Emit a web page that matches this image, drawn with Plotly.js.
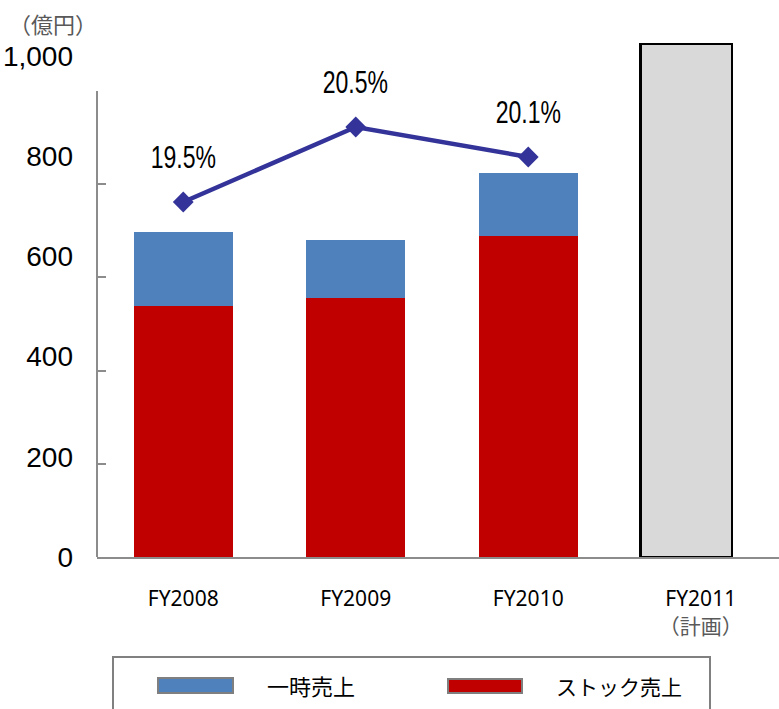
<!DOCTYPE html>
<html>
<head>
<meta charset="utf-8">
<script src="https://cdn.plot.ly/plotly-3.0.1.min.js"></script>
<style>html,body{margin:0;padding:0;background:#fff;}#chart{width:779px;height:709px;}</style>
</head>
<body>
<div id="chart"></div>
<script>
// ---- data ----
const categories = ['FY2008', 'FY2009', 'FY2010', 'FY2011'];
const tickLabels = ['FY2008', 'FY2009', 'FY2010', 'FY2011<br><span style="color:#595959">（計画）</span>'];
const stockSales = [501, 516, 641, null];      // ストック売上 (億円)
const oneTimeSales = [147, 117, 125, null];    // 一時売上 (億円)
const planSales = [null, null, null, 1024];    // FY2011 計画
const ratioCats = ['FY2008', 'FY2009', 'FY2010'];
const ratio = [19.5, 20.5, 20.1];
const ratioLabels = ['19.5%', '20.5%', '20.1%'];
const yTickVals = [0, 200, 400, 600, 800, 1000];
const seriesNames = ['一時売上', 'ストック売上'];
const unitLabel = '（億円）';

// ---- layout helpers (pixel -> paper) ----
const L = 97, R = 779, T = 38, B = 557;
const W = R - L, H = B - T;
const px = v => (v - L) / W;
const py = v => (B - v) / H;
const pxPerUnit = 0.501;           // value scale of the label axis
const pctPx = 75;                  // px per 1% on hidden axis
const pctBottom = 20.5 - (B - 127) / pctPx;

const CJK = '"Noto Sans CJK JP", "Noto Sans", sans-serif';
const NARROW = '"Liberation Sans", Arial, sans-serif';

const traces = [
  {type: 'bar', name: seriesNames[1], x: categories, y: stockSales, width: 0.574,
   marker: {color: '#c00000'}, hoverinfo: 'skip'},
  {type: 'bar', name: seriesNames[0], x: categories, y: oneTimeSales, width: 0.574,
   marker: {color: '#4f81bd'}, hoverinfo: 'skip'},
  {type: 'bar', name: '計画', x: categories, y: planSales, width: 0.528, offset: -0.348,
   marker: {color: '#d9d9d9', line: {color: '#000000', width: 2.5}}, hoverinfo: 'skip'},
  {type: 'scatter', x: ratioCats, y: ratio, yaxis: 'y2', mode: 'lines+markers',
   line: {color: '#333399', width: 4.5}, marker: {symbol: 'diamond', size: 16, color: '#333399'},
   hoverinfo: 'skip'},
  {type: 'scatter', x: [], y: [], yaxis: 'y3', mode: 'markers', showlegend: false, hoverinfo: 'skip'}
];

const annotations = ratioCats.map((c, i) => ({
  x: c, y: ratio[i], xref: 'x', yref: 'y2', text: ratioLabels[i], showarrow: false,
  yshift: 45, font: {family: NARROW, size: 32, color: '#000000'}
}));
annotations.push({xref: 'paper', yref: 'paper', x: px(7), y: py(23), xanchor: 'left', yanchor: 'middle',
  text: unitLabel, showarrow: false, font: {family: CJK, size: 22, color: '#595959'}});
annotations.push({xref: 'paper', yref: 'paper', x: px(265), y: py(685), xanchor: 'left', yanchor: 'middle',
  text: seriesNames[0], showarrow: false, font: {family: CJK, size: 22, color: '#000000'}});
annotations.push({xref: 'paper', yref: 'paper', x: px(554), y: py(686), xanchor: 'left', yanchor: 'middle',
  text: seriesNames[1], showarrow: false, font: {family: CJK, size: 21, color: '#000000'}});

const shapes = [
  {type: 'rect', xref: 'paper', yref: 'paper', x0: px(113), x1: px(710), y0: py(657), y1: py(715),
   line: {color: '#808080', width: 2}, fillcolor: 'rgba(0,0,0,0)'},
  {type: 'rect', xref: 'paper', yref: 'paper', x0: px(158), x1: px(233), y0: py(678), y1: py(693),
   line: {color: '#7f7f7f', width: 2}, fillcolor: '#4f81bd'},
  {type: 'rect', xref: 'paper', yref: 'paper', x0: px(448), x1: px(522), y0: py(679), y1: py(693),
   line: {color: '#7f7f7f', width: 2}, fillcolor: '#c00000'}
];

const layout = {
  width: 779, height: 709,
  margin: {l: L, r: 779 - R, t: T, b: 709 - B, pad: 0},
  paper_bgcolor: '#ffffff', plot_bgcolor: 'rgba(0,0,0,0)',
  barmode: 'stack', showlegend: false,
  xaxis: {type: 'category', range: [-0.5, -0.5 + W / 172.5], showline: true, linecolor: '#8c8c8c',
    linewidth: 2, ticks: '', tickvals: categories, ticktext: tickLabels, showgrid: false, zeroline: false,
    tickfont: {family: '"Noto Sans", "Noto Sans CJK JP", sans-serif', size: 21, color: '#000000'},
    ticklabelstandoff: 22, fixedrange: true},
  yaxis: {range: [0, H / pxPerUnit], showline: false, ticks: '', tickvals: yTickVals, tickformat: ',',
    showgrid: false, zeroline: false, ticklabelstandoff: 23,
    tickfont: {family: '"Liberation Sans", Arial, sans-serif', size: 28, color: '#000000'}, fixedrange: true},
  yaxis2: {overlaying: 'y', side: 'right', range: [pctBottom, pctBottom + H / pctPx], visible: false, fixedrange: true},
  yaxis3: {domain: [0, (B - 91) / H], anchor: 'free', position: 0, range: [0, 1000],
    showline: true, linecolor: '#8c8c8c', linewidth: 2, ticks: 'inside', ticklen: 8, tickwidth: 2,
    tickcolor: '#8c8c8c', tickvals: yTickVals, showticklabels: false, showgrid: false, zeroline: false, fixedrange: true},
  annotations: annotations,
  shapes: shapes
};

Plotly.newPlot('chart', traces, layout, {displayModeBar: false, staticPlot: true}).then(gd => {
  // condense the percentage labels horizontally (the original uses a narrow typeface)
  gd.querySelectorAll('.annotation-text').forEach(t => {
    if (t.textContent.indexOf('%') < 0) return;
    const bb = t.getBBox();
    const cx = bb.x + bb.width / 2;
    t.setAttribute('transform', 'translate(' + cx + ',0) scale(0.72,1) translate(' + (-cx) + ',0)');
  });
});
</script>
</body>
</html>
